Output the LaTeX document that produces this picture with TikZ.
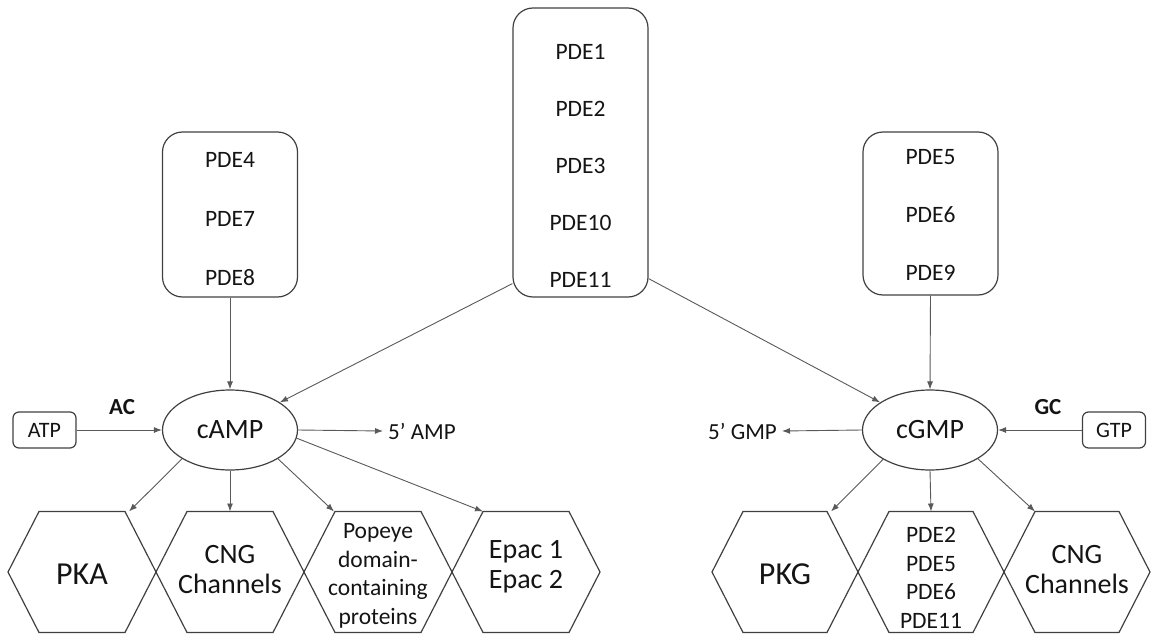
\documentclass[tikz,border=0pt]{standalone}
\usepackage{fontspec}
\setmainfont{Carlito}
\usetikzlibrary{arrows.meta,shapes.geometric,calc}

% hexagon with its left tip at (#1,572) and total width #2
\newcommand\hexagonat[2]{%
  \draw[hexline] (#1,572) -- ++(31,-60.5) -- ++({#2-62},0) -- ++(31,60.5)
    -- ++(-31,60.5) -- ++({62-#2},0) -- cycle;}

\begin{document}
\begin{tikzpicture}[x=1pt,y=-1pt,
  every node/.style={text=black!92},
  pdebox/.style={draw=black!75, line width=1.2pt, rounded corners=20pt,
    minimum width=135pt, inner sep=0pt},
  pdetext/.style={font=\fontsize{23.5}{28}\selectfont, inner sep=0pt},
  cyclic/.style={draw=black!75, line width=1.2pt, ellipse, minimum width=135pt,
    minimum height=80pt, inner sep=0pt, font=\fontsize{28}{32}\selectfont},
  substrate/.style={draw=black!75, line width=1.2pt, rounded corners=6pt,
    minimum width=63pt, minimum height=36pt, inner sep=0pt,
    font=\fontsize{22}{26}\selectfont},
  enzyme/.style={font=\bfseries\fontsize{23}{27}\selectfont, inner sep=0pt},
  product/.style={font=\fontsize{23}{27}\selectfont, inner sep=5pt},
  hexline/.style={draw=black!75, line width=1.2pt, line join=miter},
  bigtext/.style={font=\fontsize{32}{36}\selectfont, inner sep=0pt},
  midtext/.style={font=\fontsize{28}{30}\selectfont, align=center, inner sep=0pt},
  smalltext/.style={font=\fontsize{23.5}{28.5}\selectfont, align=center, inner sep=0pt},
  conn/.style={draw=black!65, line width=0.9pt, -{Latex[length=8pt,width=6pt]}}
]
\useasboundingbox (0,0) rectangle (1151,634);

% PDE families
\node[pdebox, minimum height=165pt] (lbox) at (230,214.5) {};
\node[pdetext] (pde4) at (230,160) {PDE4};
\node[pdetext] (pde7) at (230,219) {PDE7};
\node[pdetext] (pde8) at (230,278) {PDE8};

\node[pdebox, minimum height=289pt] (cbox) at (580.5,152.5) {};
\node[pdetext] (pde1) at (580.5,52) {PDE1};
\node[pdetext] (pde2) at (580.5,109) {PDE2};
\node[pdetext] (pde3) at (580.5,166) {PDE3};
\node[pdetext] (pde10) at (580.5,223) {PDE10};
\node[pdetext] (pde11) at (580.5,280) {PDE11};

\node[pdebox, minimum height=163pt] (rbox) at (930.5,213.5) {};
\node[pdetext] (pde5) at (930.5,157) {PDE5};
\node[pdetext] (pde6) at (930.5,215) {PDE6};
\node[pdetext] (pde9) at (930.5,273) {PDE9};

% cyclic nucleotides
\node[cyclic] (camp) at (230,430) {cAMP};
\node[cyclic] (cgmp) at (930,430) {cGMP};

\node[substrate] (atp) at (44.5,430) {ATP};
\node[substrate] (gtp) at (1114,430) {GTP};
\node[enzyme] (ac) at (122,407) {AC};
\node[enzyme] (gc) at (1048,407) {GC};

\node[product, anchor=west] (amp) at (383,431) {5’ AMP};
\node[product, anchor=east] (gmp) at (782,431) {5’ GMP};

% effectors
\hexagonat{8}{148}
\hexagonat{156}{148}
\hexagonat{304}{148}
\hexagonat{452}{148}
\hexagonat{712}{146}
\hexagonat{858}{146}
\hexagonat{1004}{146}

\node[bigtext] (pka) at (82,574) {PKA};
\node[midtext] (cngA) at (230,570) {CNG\\Channels};
\node[smalltext] (popeye) at (378,576) {Popeye\\domain-\\containing\\proteins};
\node[midtext] (epac) at (526,567) {Epac 1\\Epac 2};
\node[bigtext] (pkg) at (785,574) {PKG};
\node[smalltext] (pdehex) at (931,578) {PDE2\\PDE5\\PDE6\\PDE11};
\node[midtext] (cngG) at (1077,570) {CNG\\Channels};

\coordinate (pkatop) at (129,511.5);
\coordinate (cngAtop) at (230,511.5);
\coordinate (popeyetop) at (334,511.5);
\coordinate (epactop) at (483,511.5);
\coordinate (pkgtop) at (831,511.5);
\coordinate (pdehextop) at (931,511.5);
\coordinate (cngGtop) at (1035,511.5);

% hydrolysis
\draw[conn] (lbox.south) -- (camp.north);
\draw[conn] (rbox.south) -- (cgmp.north);
\draw[conn] ($(cbox.south west)+(0,-14)$) -- (camp.29);
\draw[conn] ($(cbox.south east)+(0,-19)$) -- (cgmp.151);

% synthesis and breakdown products
\draw[conn] (atp) -- (camp);
\draw[conn] (gtp) -- (cgmp);
\draw[conn] (camp.east) -- (amp.west);
\draw[conn] (cgmp.west) -- (gmp.east);

% effector activation
\draw[conn] (camp.-149) -- (pkatop);
\draw[conn] (camp.south) -- (cngAtop);
\draw[conn] (camp.-31) -- (popeyetop);
\draw[conn] (camp.-7) -- (epactop);
\draw[conn] (cgmp.-148) -- (pkgtop);
\draw[conn] (cgmp.south) -- (pdehextop);
\draw[conn] (cgmp.-31) -- (cngGtop);
\end{tikzpicture}
\end{document}
